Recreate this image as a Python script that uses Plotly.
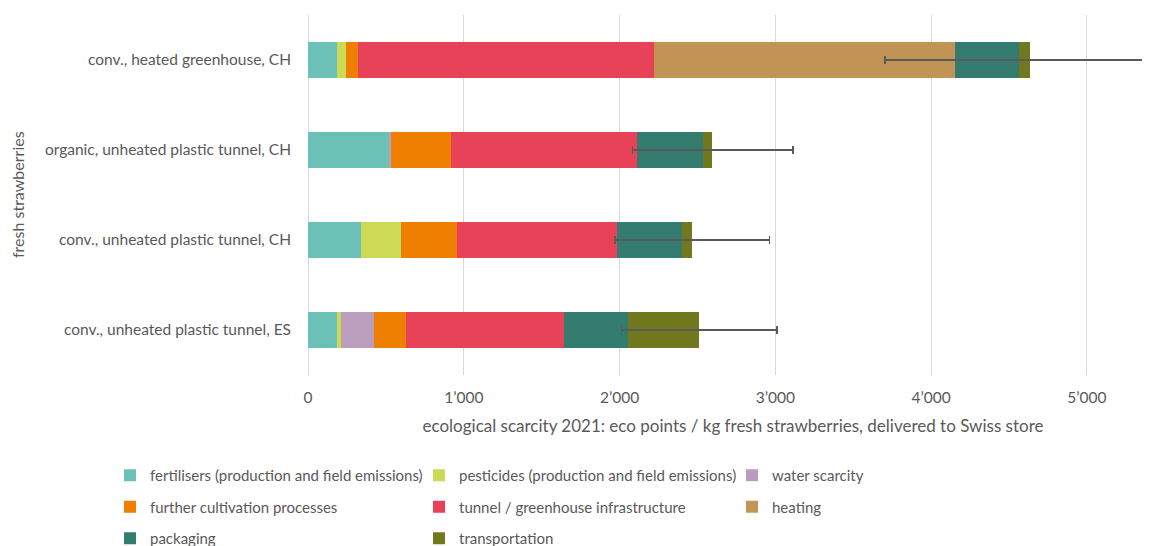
import plotly.graph_objects as go

categories = [
    "conv., unheated plastic tunnel, ES",
    "conv., unheated plastic tunnel, CH",
    "organic, unheated plastic tunnel, CH",
    "conv., heated greenhouse, CH",
]

series_names = [
    "fertilisers (production and field emissions)",
    "pesticides (production and field emissions)",
    "water scarcity",
    "further cultivation processes",
    "tunnel / greenhouse infrastructure",
    "heating",
    "packaging",
    "transportation",
]

fertilisers = [185, 342, 525, 184]
pesticides = [26, 252, 0, 60]
water_scarcity = [215, 0, 10, 0]
further_cultivation = [204, 363, 385, 75]
infrastructure = [1013, 1024, 1192, 1904]
heating = [0, 0, 0, 1932]
packaging = [411, 421, 421, 408]
transportation = [458, 60, 61, 70]

error_minus = [500, 490, 512, 928]
error_plus = [500, 499, 520, 928]

tick_vals = [0, 1000, 2000, 3000, 4000, 5000]
tick_text = ["0", "1’000", "2’000", "3’000", "4’000", "5’000"]

colors = ["#6BC1B5", "#CDDA55", "#BB9EBE", "#EF7F00", "#E84259", "#C19455", "#347B70", "#72781E"]
all_values = [fertilisers, pesticides, water_scarcity, further_cultivation,
              infrastructure, heating, packaging, transportation]
# legend columns: column 1, 2, 3 (rows fill left to right)
legend_ids = ["legend", "legend2", "legend3", "legend", "legend2", "legend3", "legend", "legend2"]

FONT = "Lato"
TXT = "#595959"
FS = 15.5
W, H = 1150, 538

fig = go.Figure()
for i, (name, vals) in enumerate(zip(series_names, all_values)):
    kw = {}
    if i == len(series_names) - 1:
        kw["error_x"] = dict(type="data", symmetric=False, array=error_plus,
                             arrayminus=error_minus, color="#595959",
                             thickness=1.5, width=4)
    fig.add_trace(go.Bar(
        y=categories, x=vals, name=name, orientation="h",
        marker=dict(color=colors[i], line=dict(width=0)),
        legend=legend_ids[i], legendgroup="g%d" % i, **kw))

legend_common = dict(orientation="v", xref="container", yref="container",
                     xanchor="left", yanchor="top", traceorder="grouped",
                     tracegroupgap=9, itemwidth=30,
                     font=dict(family=FONT, size=15, color=TXT),
                     bgcolor="rgba(0,0,0,0)")

top = 1 - 451 / H
fig.update_layout(
    width=W, height=H,
    margin=dict(l=300, r=0, t=7, b=171, autoexpand=False),
    paper_bgcolor="white", plot_bgcolor="white",
    barmode="stack", bargap=0.6,
    font=dict(family=FONT, size=FS, color=TXT),
    legend=dict(x=102/W, y=top, **legend_common),
    legend2=dict(x=411/W, y=top, **legend_common),
    legend3=dict(x=724/W, y=top, **legend_common),
    xaxis=dict(range=[0, 5456], tickvals=tick_vals, ticktext=tick_text,
               showgrid=True, gridcolor="#D9D9D9", gridwidth=1,
               zeroline=True, zerolinecolor="#D9D9D9", zerolinewidth=1,
               showline=False, ticks="", ticklabelstandoff=11, automargin=False,
               tickfont=dict(family=FONT, size=FS, color=TXT),
               title=dict(text="ecological scarcity 2021: eco points / kg fresh strawberries, delivered to Swiss store",
                          font=dict(family=FONT, size=17, color=TXT), standoff=15)),
    yaxis=dict(showgrid=False, showline=False, ticks="", ticklabelstandoff=16,
               automargin=False,
               tickfont=dict(family=FONT, size=FS, color=TXT)),
    annotations=[dict(text="fresh strawberries", xref="paper", yref="paper",
                      x=(9 - 300) / 850, y=0.5, xanchor="center", yanchor="middle",
                      textangle=-90, showarrow=False,
                      font=dict(family=FONT, size=16, color=TXT))],
)

fig.write_html("out.html")
